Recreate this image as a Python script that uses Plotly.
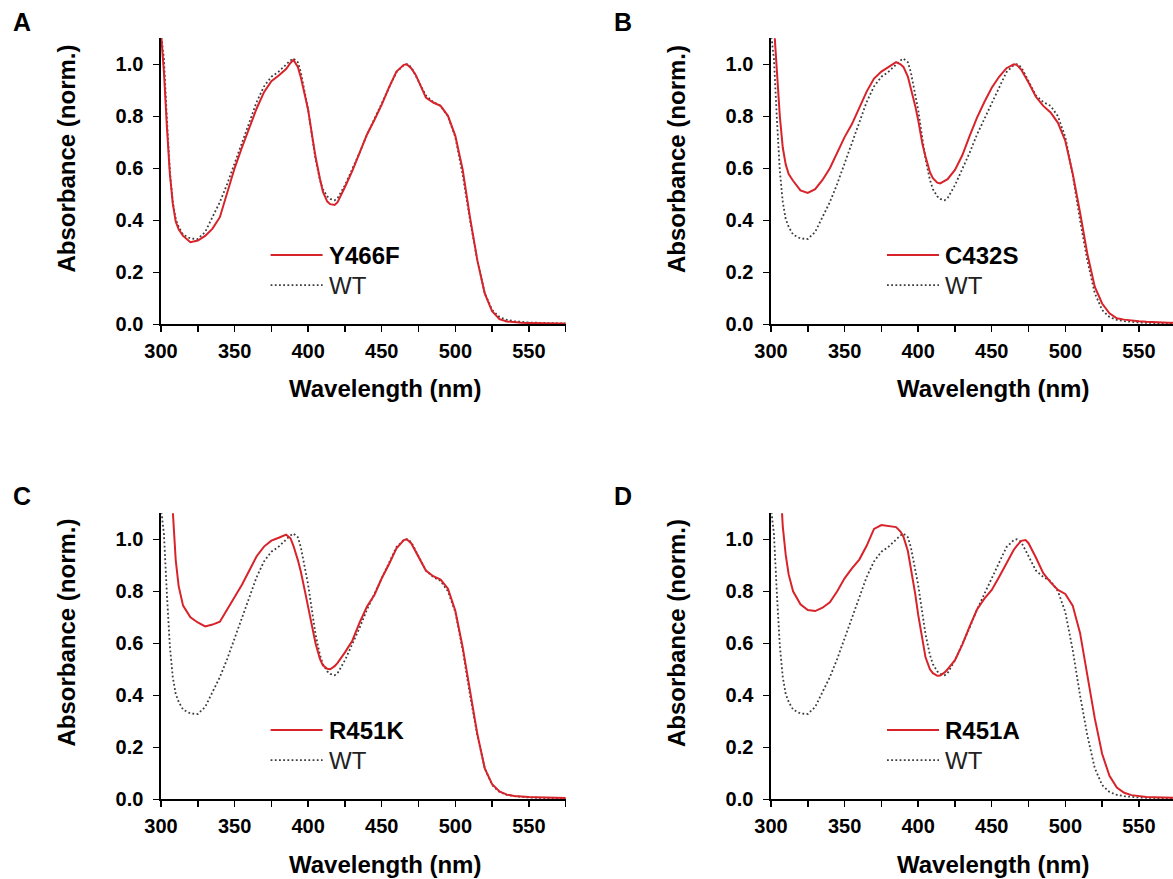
import plotly.graph_objects as go

# ---------------- data ----------------
wavelength = [300, 302, 304, 306, 308, 310, 312,
              315, 320, 325, 330, 335, 340, 345, 350, 355, 360, 365, 370, 375, 380, 385,
              388, 390, 393, 395, 398, 400, 403, 405, 408, 410, 413, 415, 418, 420,
              425, 430, 435, 440, 445, 450, 455, 460, 465,
              467, 470, 473, 475,
              480, 485, 490, 495, 500, 505, 510, 515, 520, 525, 530, 535, 540, 545, 550,
              555, 560, 565, 570, 575]

wt = [1.12, 1.02, 0.79, 0.59, 0.47, 0.405, 0.375,
      0.345, 0.330, 0.328, 0.355, 0.41, 0.47, 0.54, 0.62, 0.70, 0.78, 0.855, 0.915, 0.952, 0.972, 1.0,
      1.015, 1.022, 1.008, 0.97, 0.89, 0.825, 0.71, 0.635, 0.555, 0.52, 0.492, 0.482, 0.477, 0.485,
      0.535, 0.595, 0.66, 0.73, 0.79, 0.85, 0.915, 0.97, 0.997,
      1.0, 0.99, 0.96, 0.935,
      0.88, 0.855, 0.84, 0.80, 0.72, 0.575, 0.40, 0.245, 0.12, 0.055, 0.028, 0.017, 0.012, 0.009, 0.007,
      0.006, 0.005, 0.004, 0.004, 0.003]

y466f = [1.12, 0.97, 0.76, 0.58, 0.465, 0.395, 0.365,
         0.34, 0.316, 0.322, 0.34, 0.368, 0.412, 0.505, 0.60, 0.68, 0.755, 0.83, 0.893, 0.935, 0.957, 0.982,
         1.005, 1.017, 0.99, 0.95, 0.875, 0.824, 0.715, 0.645, 0.56, 0.51, 0.472, 0.462, 0.459, 0.47,
         0.528, 0.59, 0.66, 0.73, 0.786, 0.845, 0.912, 0.972, 0.998,
         1.0, 0.985, 0.96, 0.935,
         0.872, 0.853, 0.84, 0.802, 0.725, 0.595, 0.41, 0.245, 0.119, 0.05, 0.02, 0.011, 0.008, 0.006, 0.005,
         0.004, 0.004, 0.003, 0.003, 0.003]

c432s = [None, 1.15, 0.97, 0.80, 0.68, 0.615, 0.578,
         0.552, 0.515, 0.505, 0.52, 0.555, 0.60, 0.66, 0.72, 0.77, 0.835, 0.895, 0.945, 0.972, 0.99, 1.008,
         1.0, 0.99, 0.953, 0.91, 0.84, 0.786, 0.69, 0.645, 0.585, 0.562, 0.545, 0.542, 0.55, 0.558,
         0.594, 0.65, 0.725, 0.795, 0.855, 0.91, 0.952, 0.985, 1.0,
         0.998, 0.98, 0.953, 0.93,
         0.875, 0.84, 0.815, 0.775, 0.705, 0.58, 0.43, 0.27, 0.145, 0.08, 0.042, 0.023, 0.018, 0.014, 0.012,
         0.01, 0.008, 0.007, 0.006, 0.006]

r451k = [None, None, None, 1.30, 1.09, 0.92, 0.82,
         0.745, 0.70, 0.68, 0.665, 0.672, 0.683, 0.73, 0.775, 0.825, 0.88, 0.935, 0.972, 0.995, 1.006, 1.018,
         1.004, 0.975, 0.92, 0.876, 0.795, 0.74, 0.655, 0.60, 0.54, 0.515, 0.502, 0.50, 0.512, 0.525,
         0.565, 0.61, 0.68, 0.742, 0.786, 0.85, 0.905, 0.965, 0.997,
         1.0, 0.985, 0.955, 0.93,
         0.88, 0.858, 0.845, 0.81, 0.725, 0.585, 0.41, 0.25, 0.119, 0.058, 0.03, 0.018, 0.013, 0.01, 0.009,
         0.008, 0.007, 0.006, 0.006, 0.005]

r451a = [None, None, None, 1.25, 1.05, 0.94, 0.865,
         0.80, 0.75, 0.728, 0.724, 0.737, 0.758, 0.80, 0.85, 0.888, 0.922, 0.975, 1.04, 1.055, 1.05, 1.047,
         1.03, 1.01, 0.955, 0.895, 0.79, 0.71, 0.606, 0.546, 0.50, 0.485, 0.475, 0.476, 0.488, 0.50,
         0.535, 0.595, 0.665, 0.73, 0.772, 0.805, 0.855, 0.91, 0.96,
         0.975, 0.994, 0.997, 0.985,
         0.93, 0.87, 0.834, 0.805, 0.79, 0.745, 0.64, 0.48, 0.312, 0.175, 0.09, 0.045, 0.025, 0.016, 0.012,
         0.009, 0.008, 0.007, 0.006, 0.006]

panel_letters = ["A", "B", "C", "D"]
mutant_names = ["Y466F", "C432S", "R451K", "R451A"]
mutant_series = [y466f, c432s, r451k, r451a]
reference_name = "WT"

x_tick_values = [300, 325, 350, 375, 400, 425, 450, 475, 500, 525, 550, 575]
x_tick_text = ["300", "", "350", "", "400", "", "450", "", "500", "", "550", ""]
y_tick_values = [0.0, 0.2, 0.4, 0.6, 0.8, 1.0]
y_tick_text = ["0.0", "0.2", "0.4", "0.6", "0.8", "1.0"]
x_title = "Wavelength (nm)"
y_title = "Absorbance (norm.)"

# ---------------- layout geometry (pixels) ----------------
W, H = 1173, 879
PX_PER_NM = 1.4716
col_left = [161, 771]
row_bottom = [324.3, 799.3]
row_top = [38.3, 513.3]

RED = "#d8232a"
GREY = "#3c3c3c"
FONT = "Liberation Sans, Arial, sans-serif"


def px(x):
    return x / W


def py(y):
    return 1 - y / H


fig = go.Figure()
layout = dict(
    width=W, height=H,
    autosize=False,
    margin=dict(l=0, r=0, t=0, b=0, pad=0, autoexpand=False),
    paper_bgcolor="white", plot_bgcolor="white",
    showlegend=False,
    font=dict(family=FONT, color="black"),
)
annotations = []
shapes = []

for i in range(4):
    col, row = i % 2, i // 2
    sfx = "" if i == 0 else str(i + 1)
    xa, ya = "x" + sfx, "y" + sfx
    x0 = col_left[col]
    x1 = min(x0 + 275 * PX_PER_NM, W)
    xmax = 300 + (x1 - x0) / PX_PER_NM

    fig.add_trace(go.Scatter(x=wavelength, y=wt, xaxis=xa, yaxis=ya, mode="lines",
                             line=dict(color=GREY, width=1.8, dash="1.8px,2.4px"),
                             connectgaps=False, hoverinfo="skip"))
    fig.add_trace(go.Scatter(x=wavelength, y=mutant_series[i], xaxis=xa, yaxis=ya, mode="lines",
                             line=dict(color=RED, width=2.0), connectgaps=False))

    layout["xaxis" + sfx] = dict(
        domain=[px(x0), px(x1)], range=[300, xmax], anchor=ya, automargin=False,
        showline=True, linecolor="black", linewidth=1.6,
        ticks="outside", ticklen=6, tickwidth=1.5, tickcolor="black",
        tickvals=x_tick_values, ticktext=x_tick_text,
        tickfont=dict(family=FONT, size=20, color="black", weight="bold"),
        ticklabelstandoff=2,
        showgrid=False, zeroline=False, fixedrange=True,
    )
    layout["yaxis" + sfx] = dict(
        domain=[py(row_bottom[row]), py(row_top[row])], range=[0, 1.1], anchor=xa, automargin=False,
        showline=True, linecolor="black", linewidth=1.6,
        ticks="outside", ticklen=6, tickwidth=1.5, tickcolor="black",
        tickvals=y_tick_values, ticktext=y_tick_text,
        tickfont=dict(family=FONT, size=20, color="black", weight="bold"),
        ticklabelstandoff=6,
        showgrid=False, zeroline=False, fixedrange=True,
    )

    # panel letter
    annotations.append(dict(text="<b>%s</b>" % panel_letters[i], xref="paper", yref="paper",
                            x=px(22 + 601 * col), y=py(22 + 474 * row), xanchor="center", yanchor="middle",
                            showarrow=False, font=dict(family=FONT, size=25, color="black")))
    # axis titles
    annotations.append(dict(text="<b>%s</b>" % y_title, xref="paper", yref="paper", textangle=-90,
                            x=px(65.5 + 610.5 * col), y=py(159 + 474 * row), xanchor="center", yanchor="middle",
                            showarrow=False, font=dict(family=FONT, size=24, color="black")))
    annotations.append(dict(text="<b>%s</b>" % x_title, xref="paper", yref="paper",
                            x=px(385 + 608 * col), y=py(388 + 476 * row), xanchor="center", yanchor="middle",
                            showarrow=False, font=dict(family=FONT, size=24, color="black")))

    # in-plot legend (sample lines + labels)
    lx0 = 300 + ((270.6 if col == 0 else 887) - x0) / PX_PER_NM
    lx1 = lx0 + 52 / PX_PER_NM
    ltx = lx1 + 4 / PX_PER_NM
    ly_m = 0.2665
    ly_w = 0.151
    shapes.append(dict(type="line", xref=xa, yref=ya, x0=lx0, x1=lx1, y0=ly_m, y1=ly_m,
                       line=dict(color=RED, width=2.0)))
    shapes.append(dict(type="line", xref=xa, yref=ya, x0=lx0, x1=lx1, y0=ly_w, y1=ly_w,
                       line=dict(color=GREY, width=1.8, dash="1.8px,2.4px")))
    annotations.append(dict(text="<b>%s</b>" % mutant_names[i], xref=xa, yref=ya, x=ltx, y=ly_m,
                            xanchor="left", yanchor="middle", showarrow=False,
                            font=dict(family=FONT, size=24, color="black")))
    annotations.append(dict(text=reference_name, xref=xa, yref=ya, x=ltx, y=ly_w,
                            xanchor="left", yanchor="middle", showarrow=False,
                            font=dict(family=FONT, size=24, color="#222222")))

layout["annotations"] = annotations
layout["shapes"] = shapes
fig.update_layout(**layout)
fig.write_html(
    "out.html",
    config={"displayModeBar": False, "staticPlot": True},
    post_script="document.body.style.margin='0';document.body.style.padding='0';"
                "document.body.style.overflow='hidden';",
)
